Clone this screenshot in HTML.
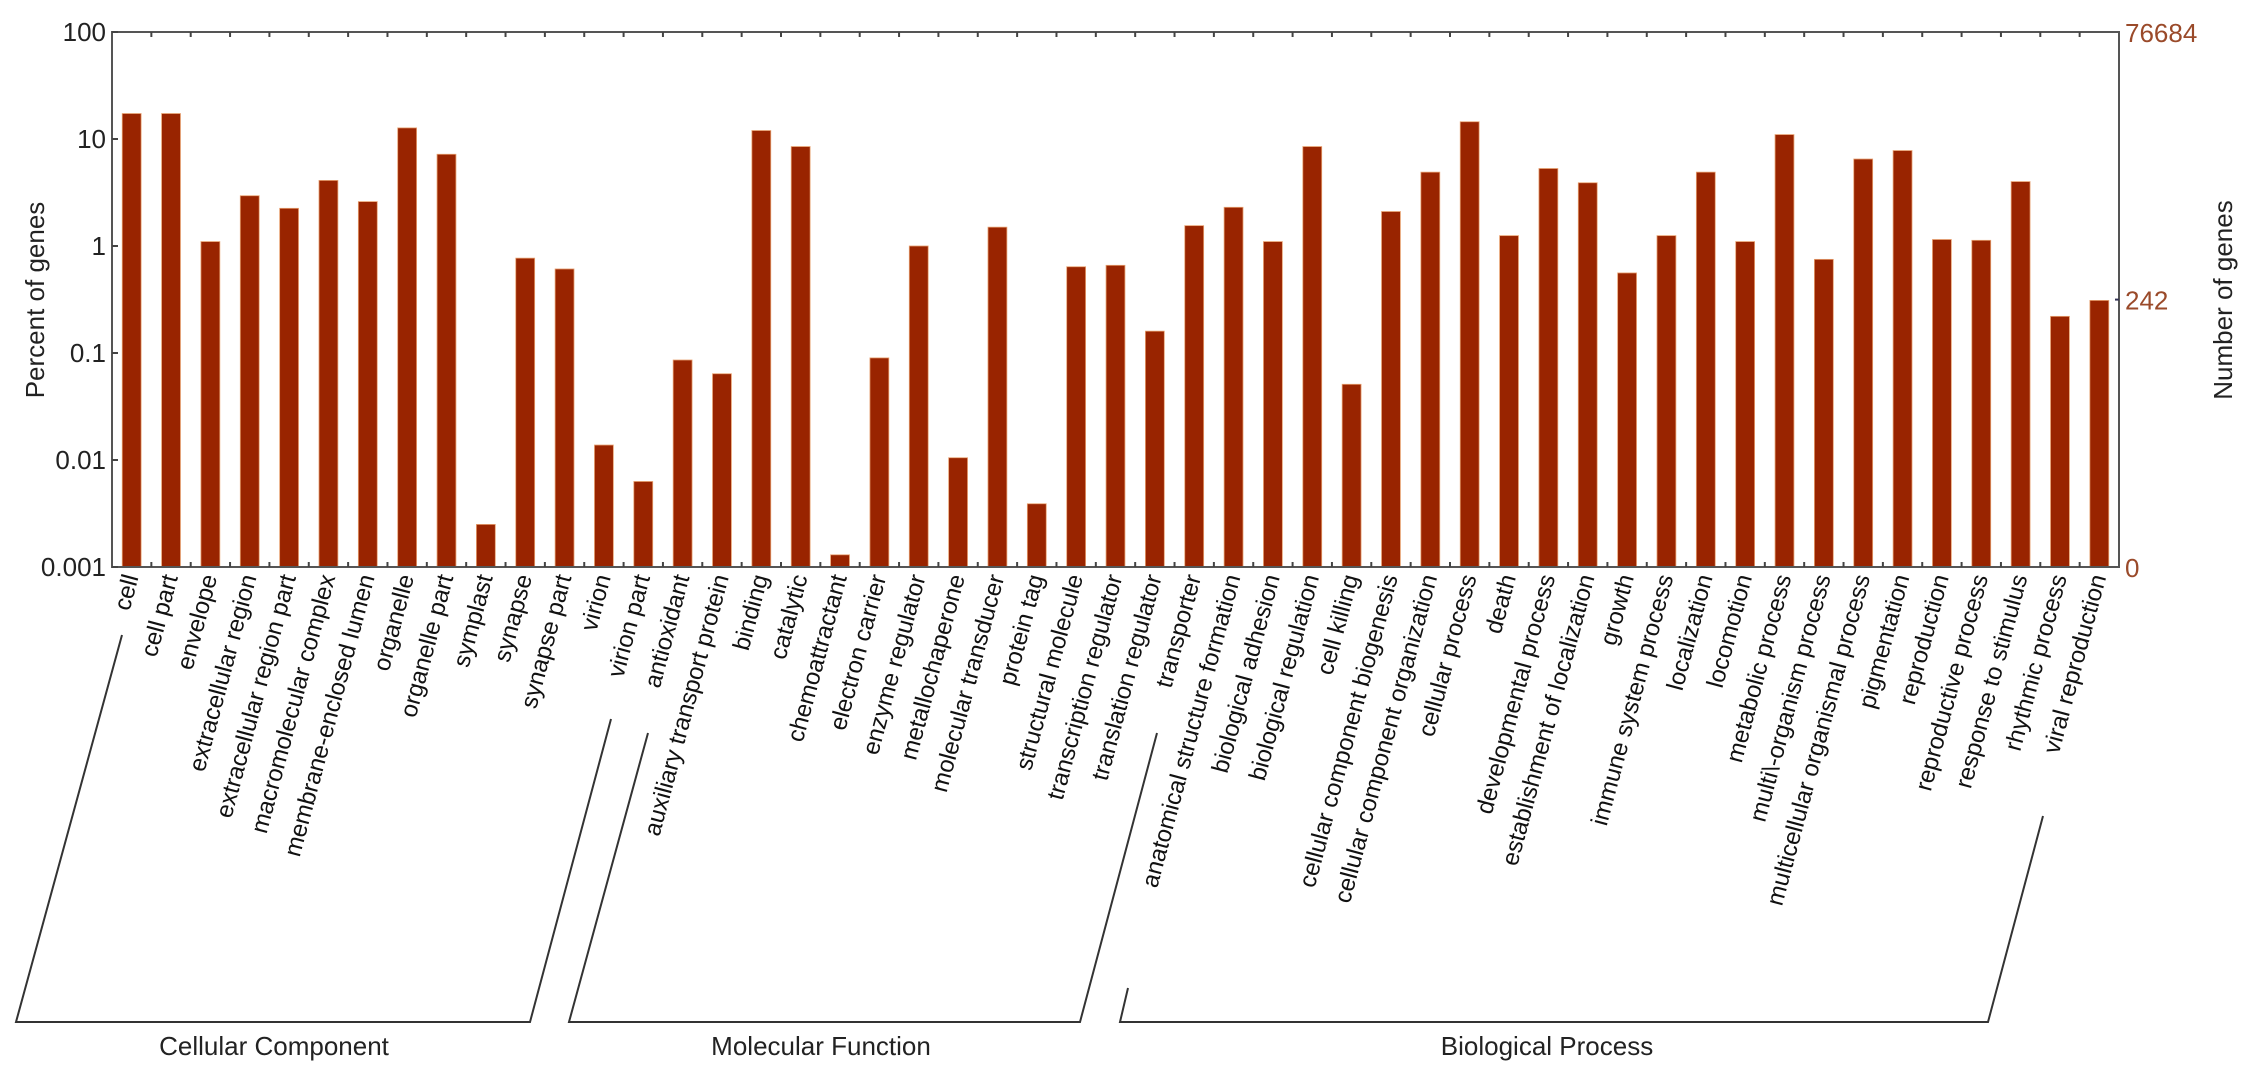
<!DOCTYPE html>
<html><head><meta charset="utf-8"><style>
html,body{margin:0;padding:0;background:#fff;}
svg{display:block;font-family:"Liberation Sans",Arial,sans-serif;}
</style></head><body>
<svg id="chart" width="2260" height="1081" viewBox="0 0 2260 1081" xmlns="http://www.w3.org/2000/svg"></svg>
<script>
const categories = ["cell","cell part","envelope","extracellular region","extracellular region part","macromolecular complex","membrane-enclosed lumen","organelle","organelle part","symplast","synapse","synapse part","virion","virion part","antioxidant","auxiliary transport protein","binding","catalytic","chemoattractant","electron carrier","enzyme regulator","metallochaperone","molecular transducer","protein tag","structural molecule","transcription regulator","translation regulator","transporter","anatomical structure formation","biological adhesion","biological regulation","cell killing","cellular component biogenesis","cellular component organization","cellular process","death","developmental process","establishment of localization","growth","immune system process","localization","locomotion","metabolic process","multi\\-organism process","multicellular organismal process","pigmentation","reproduction","reproductive process","response to stimulus","rhythmic process","viral reproduction"];
const percentValues = [17.3,17.3,1.1,2.95,2.25,4.1,2.6,12.7,7.2,0.0025,0.77,0.61,0.0138,0.0063,0.086,0.064,12,8.5,0.0013,0.09,1.0,0.0105,1.5,0.0039,0.64,0.66,0.16,1.55,2.3,1.1,8.5,0.051,2.1,4.9,14.5,1.25,5.3,3.9,0.56,1.25,4.9,1.1,11,0.75,6.5,7.8,1.15,1.13,4.0,0.22,0.31];
const leftTicks = [0.001,0.01,0.1,1,10,100];
const leftTickLabels = ["0.001","0.01","0.1","1","10","100"];
const rightTicks = [0,242,76684];
const rightTickLabels = ["0","242","76684"];
const groupNames = ["Cellular Component","Molecular Function","Biological Process"];

const NS="http://www.w3.org/2000/svg";
const svg=document.getElementById('chart');
const L=112,R=2119,T=32,B=567;
const yMin=-3,yMax=2;
const n=categories.length;
const pitch=(R-L)/n;
function xBand(i){return L+pitch*i;}
function yScale(v){return B-(Math.log10(v)-yMin)/(yMax-yMin)*(B-T);}
function mk(tag,attrs,parent){const e=document.createElementNS(NS,tag);for(const k in attrs)e.setAttribute(k,attrs[k]);(parent||svg).appendChild(e);return e;}

// bars
const barsG=mk('g',{});


const bw=pitch*0.48;
percentValues.forEach((v,i)=>{
  const cx=xBand(i)+pitch/2;
  const y=yScale(v);
  const r=mk('rect',{x:cx-bw/2,y:y,width:bw,height:B-y,fill:'#992400',stroke:'#e7a070','stroke-width':0.8},barsG);
  
  
});

// axes frame
const frame=mk('rect',{x:L,y:T,width:R-L,height:B-T,fill:'none',stroke:'#555','stroke-width':2});



// category ticks top & bottom
for(let i=1;i<n;i++){
  const x=xBand(i);
  mk('line',{x1:x,y1:B,x2:x,y2:B-5,stroke:'#444','stroke-width':2});
  mk('line',{x1:x,y1:T,x2:x,y2:T+5,stroke:'#444','stroke-width':2});
}

// left ticks
leftTicks.forEach((v,i)=>{
  const y=yScale(v);
  mk('line',{x1:L,y1:y,x2:L+6,y2:y,stroke:'#444','stroke-width':2});
  const t=mk('text',{x:L-6,y:y+9,'text-anchor':'end','font-size':26,fill:'#222'});
  t.textContent=leftTickLabels[i];
  
  
});
// right ticks (0 at bottom, 242 at 0.1%*? mapped via count/total)
const total=rightTicks[2];
rightTicks.forEach((v,i)=>{
  const y = v===0 ? B : yScale(v/total*100);
  const t=mk('text',{x:R+6,y:y+10,'text-anchor':'start','font-size':26,fill:'#9a4a2a'});
  t.textContent=rightTickLabels[i];
  
  
  if(i===1) mk('line',{x1:R-4,y1:y,x2:R,y2:y,stroke:'#335','stroke-width':2});
});

// axis titles
let t=mk('text',{x:0,y:0,transform:'translate(44,300) rotate(-90)','text-anchor':'middle','font-size':26,fill:'#222'});
t.textContent='Percent of genes';


t=mk('text',{x:0,y:0,transform:'translate(2232,300) rotate(-90)','text-anchor':'middle','font-size':26,fill:'#222'});
t.textContent='Number of genes';



// category labels
categories.forEach((c,i)=>{
  const cx=xBand(i)+pitch/2+7;
  const lb=mk('text',{x:0,y:0,transform:`translate(${cx},577) rotate(-75)`,'text-anchor':'end','font-size':24,fill:'#111'});
  lb.textContent=c;
  
  
});

// group brackets
const brackets=[
 [[122,635],[16,1022],[530,1022],[611,719]],
 [[648,733],[569,1022],[1080,1022],[1157,733]],
 [[1128,988],[1120,1022],[1988,1022],[2043,816]]
];
const titleX=[274,821,1547];
brackets.forEach((p,i)=>{
  const pl=mk('polyline',{points:p.map(q=>q.join(',')).join(' '),fill:'none',stroke:'#333','stroke-width':2});
  
  
  const gt=mk('text',{x:titleX[i],y:1055,'text-anchor':'middle','font-size':26,fill:'#222'});
  gt.textContent=groupNames[i];
  
  
});
</script>
</body></html>
